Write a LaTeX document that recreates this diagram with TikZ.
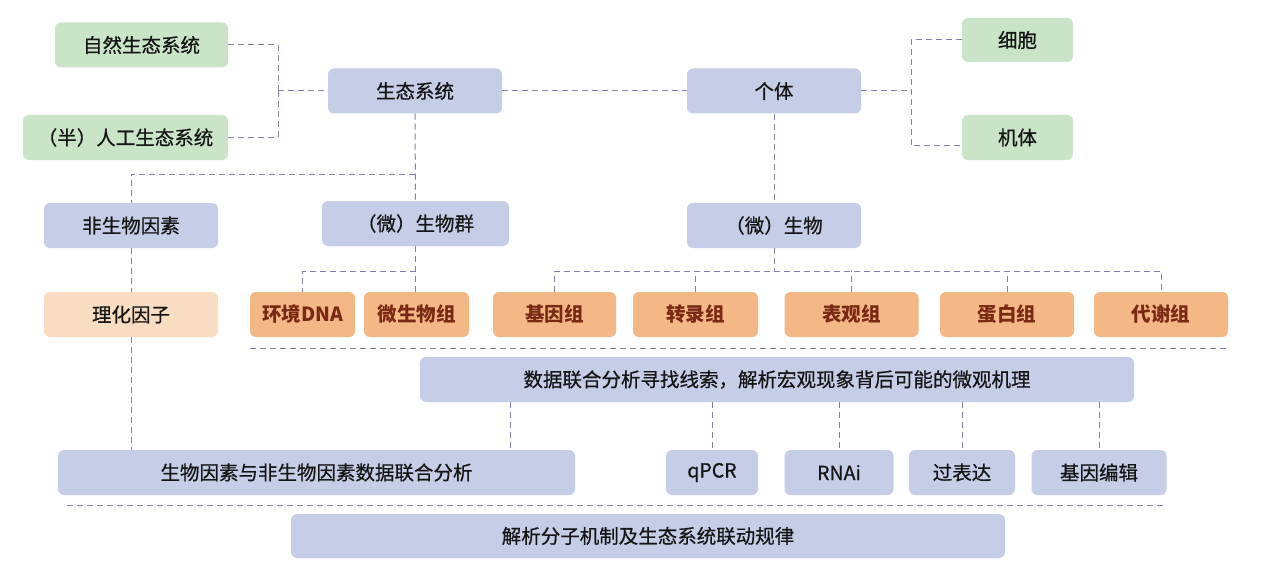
\documentclass[tikz,border=0pt]{standalone}
\usepackage{fontspec}
\setmainfont{Noto Sans CJK SC}
\newfontfamily\medfont[FakeBold=0.6]{Noto Sans CJK SC}
\definecolor{bluebox}{HTML}{C6CDE7}
\definecolor{greenbox}{HTML}{C9E4C7}
\definecolor{orangebox}{HTML}{F4B887}
\definecolor{peachbox}{HTML}{F9DDC3}
\definecolor{omtext}{HTML}{7A2A14}
\definecolor{linec}{HTML}{7F82AC}
\definecolor{txt}{HTML}{151515}
\tikzset{
  box/.style={rounded corners=6pt, minimum height=45pt, inner sep=0pt, text=txt, font=\medfont\fontsize{19.5}{22}\selectfont},
  bluen/.style={box, fill=bluebox},
  greenn/.style={box, fill=greenbox},
  omics/.style={box, fill=orangebox, text=omtext, font=\fontsize{19.5}{22}\selectfont\bfseries},
  peachn/.style={box, fill=peachbox},
  conn/.style={draw=linec, line width=1pt, dash pattern=on 6pt off 4pt},
}
\begin{document}
\begin{tikzpicture}[x=1pt,y=1pt]
\useasboundingbox[fill=white] (0,0) rectangle (1266,-583);
% top level
\node[greenn, minimum width=173pt] (ziran) at (141.5,-45) {自然生态系统};
\node[greenn, minimum width=205pt] (rengong) at (125.5,-137.5) {（半）人工生态系统};
\node[bluen, minimum width=174pt] (shengtai) at (415,-91) {生态系统};
\node[bluen, minimum width=174pt] (geti) at (774,-91) {个体};
\node[greenn, minimum width=111pt, minimum height=44pt] (xibao) at (1017.5,-40) {细胞};
\node[greenn, minimum width=111pt] (jiti) at (1017.5,-137.5) {机体};
% second level
\node[bluen, minimum width=174pt] (feisw) at (131,-225.5) {非生物因素};
\node[bluen, minimum width=187pt] (swq) at (415.5,-223.5) {（微）生物群};
\node[bluen, minimum width=174pt] (weisw) at (774,-225.5) {（微）生物};
% third level
\node[peachn, minimum width=174pt] (lihua) at (131,-314.5) {理化因子};
\node[omics, minimum width=105pt] (hjdna) at (302.5,-314.5) {环境DNA};
\node[omics, minimum width=105pt] (wswz) at (416.5,-314.5) {微生物组};
\node[omics, minimum width=123pt] (jyz) at (554.5,-314.5) {基因组};
\node[omics, minimum width=125pt] (zlz) at (695.5,-314.5) {转录组};
\node[omics, minimum width=134pt] (bgz) at (851.5,-314.5) {表观组};
\node[omics, minimum width=134pt] (dbz) at (1007,-314.5) {蛋白组};
\node[omics, minimum width=134pt] (dxz) at (1161,-314.5) {代谢组};
% analysis
\node[bluen, minimum width=714pt] (sjlh) at (777,-379.5) {数据联合分析寻找线索，解析宏观现象背后可能的微观机理};
\node[bluen, minimum width=517pt] (swys) at (316.5,-472.5) {生物因素与非生物因素数据联合分析};
\node[bluen, minimum width=92pt] (qpcr) at (712,-472.5) {qPCR};
\node[bluen, minimum width=109pt] (rnai) at (839,-472.5) {RNAi};
\node[bluen, minimum width=106pt] (gbd) at (962,-472.5) {过表达};
\node[bluen, minimum width=135pt] (jybj) at (1099,-472.5) {基因编辑};
\node[bluen, minimum width=714pt, minimum height=44pt] (jiexi) at (648,-536) {解析分子机制及生态系统联动规律};
% junction coordinates
\coordinate (jL) at (278,-91);
\coordinate (jR) at (911,-91);
\coordinate (jRb) at (911,-146);
\coordinate (jS) at (415,-174);
\coordinate (busA) at (0,-271);
\coordinate (c510) at (510,0);
\coordinate (sepA1) at (250,-348);
\coordinate (sepA2) at (1228,-348);
\coordinate (sepB1) at (67,-505);
\coordinate (sepB2) at (1163,-505);
% connectors
\draw[conn] (ziran.east) -| (jL);
\draw[conn] (rengong.east) -| (jL);
\draw[conn] (jL) -- (shengtai.west);
\draw[conn] (shengtai.east) -- (geti.west);
\draw[conn] (geti.east) -- (jR);
\draw[conn] (xibao.west) -| (jR) -- (jRb) -- (jRb -| jiti.west);
\draw[conn] (shengtai.south) -- (swq.north);
\draw[conn] (jS) -| (feisw.north);
\draw[conn] (geti.south) -- (weisw.north);
\draw[conn] (feisw.south) -- (lihua.north);
\draw[conn] (lihua.south) -- (lihua.south |- swys.north);
\draw[conn] (swq.south) -- (swq.south |- wswz.north);
\draw[conn] (swq.south |- busA) -| (hjdna.north);
\draw[conn] (weisw.south) -- (weisw.south |- busA);
\draw[conn] (jyz.north) -- (jyz.north |- busA) -- (dxz.north |- busA) -- (dxz.north);
\draw[conn] (zlz.north) -- (zlz.north |- busA);
\draw[conn] (bgz.north) -- (bgz.north |- busA);
\draw[conn] (dbz.north) -- (dbz.north |- busA);
\draw[conn] (sepA1) -- (sepA2);
\draw[conn] (sjlh.south -| c510) -- (swys.north -| c510);
\draw[conn] (qpcr.north |- sjlh.south) -- (qpcr.north);
\draw[conn] (rnai.north |- sjlh.south) -- (rnai.north);
\draw[conn] (gbd.north |- sjlh.south) -- (gbd.north);
\draw[conn] (jybj.north |- sjlh.south) -- (jybj.north);
\draw[conn] (sepB1) -- (sepB2);
\end{tikzpicture}
\end{document}
